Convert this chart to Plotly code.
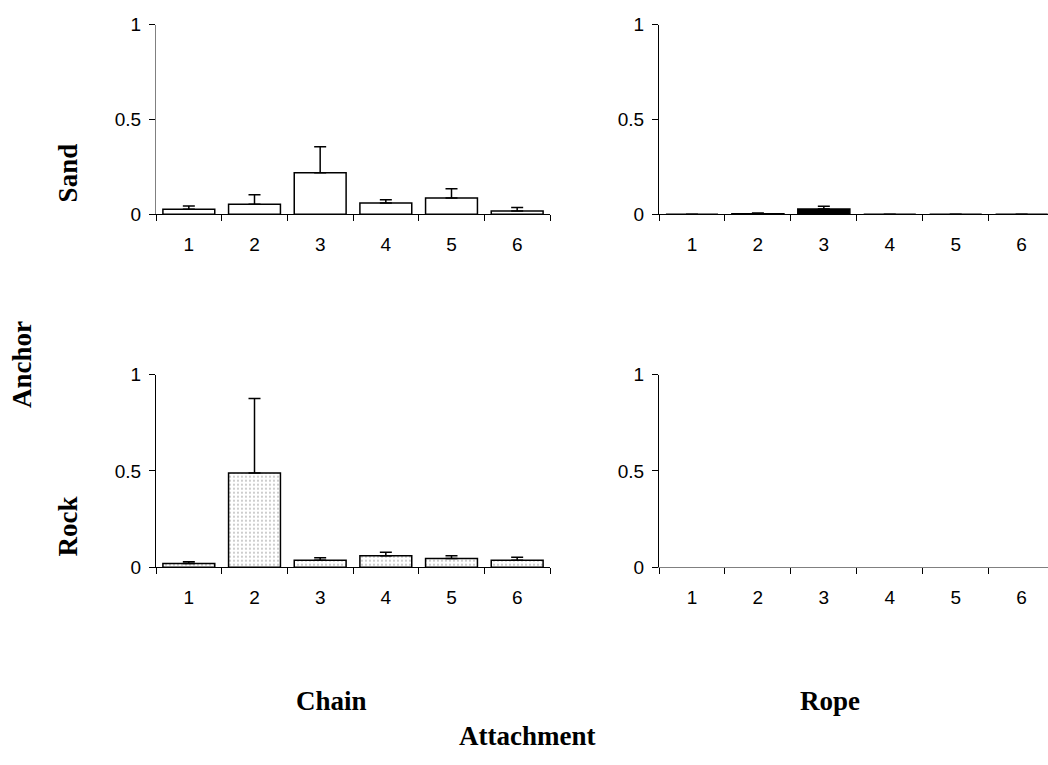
import plotly.graph_objects as go

W, H = 1048, 765

# Sites along the transect
sites = ["1", "2", "3", "4", "5", "6"]

# Mean values and upper error limits per anchor / attachment combination
sand_chain = [0.026, 0.053, 0.219, 0.059, 0.086, 0.017]
sand_chain_err = [0.044, 0.103, 0.356, 0.077, 0.135, 0.035]

sand_rope = [0.0, 0.003, 0.028, 0.0, 0.0, 0.0]
sand_rope_err = [0.0, 0.006, 0.042, 0.0, 0.0, 0.0]

rock_chain = [0.019, 0.489, 0.036, 0.060, 0.045, 0.036]
rock_chain_err = [0.029, 0.876, 0.050, 0.078, 0.060, 0.052]

rock_rope = [0.0, 0.0, 0.0, 0.0, 0.0, 0.0]

y_ticks = [0, 0.5, 1]
y_tick_text = ["0", "0.5", "1"]

tick_font = dict(family="Liberation Sans, Arial", size=19, color="black")
label_font = dict(family="Liberation Serif, Times New Roman", size=27, color="black")


def px_x(p):
    return p / W


def px_y(p):
    return 1 - p / H


def upper_err(vals, tops):
    return dict(type="data", symmetric=False,
                array=[t - v for v, t in zip(vals, tops)],
                arrayminus=[0] * len(vals),
                color="black", thickness=1.5, width=6)


fig = go.Figure()

bar_line = dict(color="black", width=1.5)

fig.add_trace(go.Bar(x=sites, y=sand_chain, xaxis="x", yaxis="y",
                     marker=dict(color="white", line=bar_line),
                     error_y=upper_err(sand_chain, sand_chain_err)))
fig.add_trace(go.Bar(x=sites, y=sand_rope, xaxis="x2", yaxis="y2",
                     marker=dict(color="black", line=bar_line),
                     error_y=upper_err(sand_rope, sand_rope_err)))
fig.add_trace(go.Bar(x=sites, y=rock_chain, xaxis="x3", yaxis="y3",
                     marker=dict(color="white", line=bar_line,
                                 pattern=dict(shape=".", fgcolor="black", bgcolor="white",
                                              size=4, solidity=0.1)),
                     error_y=upper_err(rock_chain, rock_chain_err)))
fig.add_trace(go.Bar(x=sites, y=rock_rope, xaxis="x4", yaxis="y4",
                     marker=dict(color="white", line=dict(color="black", width=0))))

left_dom = [px_x(156), px_x(550)]
right_dom = [px_x(659), 1.0]
top_dom = [px_y(210), px_y(15)]
bot_dom = [px_y(573), px_y(375)]


def xax(dom, anchor, rng, linecolor="black"):
    return dict(domain=dom, anchor=anchor, type="category", range=rng,
                tickson="boundaries", ticks="outside", ticklen=6, tickwidth=1,
                tickcolor="black", showline=True, linecolor=linecolor, linewidth=1,
                showgrid=False, zeroline=False, tickfont=tick_font,
                ticklabelstandoff=13, fixedrange=True)


def yax(dom, anchor, linecolor="black"):
    return dict(domain=dom, anchor=anchor, range=[0, 1], tickvals=y_ticks,
                ticktext=y_tick_text, ticks="outside", ticklen=6, tickwidth=1,
                tickcolor="black", showline=True, linecolor=linecolor, linewidth=1,
                showgrid=False, zeroline=False, tickfont=tick_font,
                ticklabelstandoff=4, fixedrange=True)


fig.update_layout(
    width=W, height=H,
    margin=dict(l=0, r=0, t=0, b=0),
    paper_bgcolor="white", plot_bgcolor="white",
    showlegend=False, bargap=0.21,
    xaxis=xax(left_dom, "y", [-0.5, 5.5]),
    yaxis=yax(top_dom, "x", linecolor="#808080"),
    xaxis2=xax(right_dom, "y2", [-0.5, 5.4]),
    yaxis2=yax(top_dom, "x2"),
    xaxis3=xax(left_dom, "y3", [-0.5, 5.5]),
    yaxis3=yax(bot_dom, "x3"),
    xaxis4=xax(right_dom, "y4", [-0.5, 5.4], linecolor="#808080"),
    yaxis4=yax(bot_dom, "x4"),
)


def label(text, x, y, angle=0):
    fig.add_annotation(text="<b>%s</b>" % text, x=px_x(x), y=px_y(y),
                       xref="paper", yref="paper", xanchor="center", yanchor="middle",
                       showarrow=False, textangle=angle, font=label_font)


label("Sand", 68, 168, -90)
label("Rock", 68, 531, -90)
label("Anchor", 22, 365, -90)
label("Chain", 331, 711)
label("Rope", 830, 711)
label("Attachment", 527, 746)

fig.write_html("out.html")
